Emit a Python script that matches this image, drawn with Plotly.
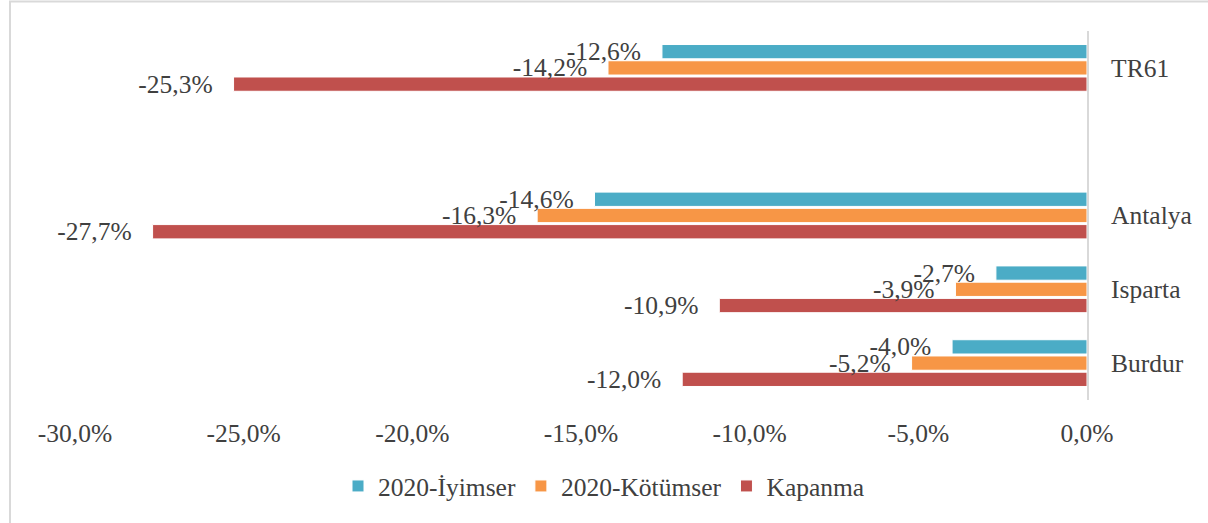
import plotly.graph_objects as go

categories = ["Burdur", "Isparta", "Antalya", " ", "TR61"]
iyimser = [-4.0, -2.7, -14.6, None, -12.6]
kotumser = [-5.2, -3.9, -16.3, None, -14.2]
kapanma = [-12.0, -10.9, -27.7, None, -25.3]
x_ticks = [-30, -25, -20, -15, -10, -5, 0]

FONT = "Liberation Serif, Times New Roman, serif"
TXT = "#404040"
PAD = "\u00a0\u00a0\u2009"


def fmt(v):
    return f"{v:.1f}".replace(".", ",") + "%"


def labels(vals):
    return [("" if v is None else fmt(v) + PAD) for v in vals]


fig = go.Figure()
series = [
    ("Kapanma", kapanma, "#C0504D"),
    ("2020-Kötümser", kotumser, "#F79646"),
    ("2020-İyimser", iyimser, "#4BACC6"),
]
for name, vals, col in series:
    fig.add_trace(go.Bar(
        y=categories, x=vals, name=name, orientation="h",
        marker=dict(color=col, line=dict(color="white", width=1)),
        text=labels(vals), textposition="outside", constraintext="none",
        cliponaxis=False, textfont=dict(family=FONT, size=25.5, color=TXT),
    ))

W, H = 1208, 523
L, R, T, B = 75, 121, 31, 123
pw, ph = W - L - R, H - T - B

fig.update_layout(
    width=W, height=H,
    margin=dict(l=L, r=R, t=T, b=B),
    paper_bgcolor="white", plot_bgcolor="white",
    barmode="group", bargap=0.34, bargroupgap=0.12,
    font=dict(family=FONT, size=25.5, color=TXT),
    showlegend=True,
    legend=dict(orientation="h", traceorder="reversed", xref="container", x=0.5,
                xanchor="center", yref="container", y=0.07, yanchor="middle",
                font=dict(family=FONT, size=25.5, color=TXT), itemwidth=30),
    xaxis=dict(range=[-30, 0], tickmode="array", tickvals=x_ticks,
               ticktext=[fmt(v) for v in x_ticks],
               showgrid=False, zeroline=False, showline=False,
               ticks="outside", ticklen=10, tickcolor="rgba(0,0,0,0)",
               tickfont=dict(family=FONT, size=25.5, color=TXT)),
    yaxis=dict(side="right", showgrid=False, showline=True, linecolor="#D9D9D9",
               linewidth=2, ticks="outside", ticklen=17, tickcolor="rgba(0,0,0,0)",
               tickfont=dict(family=FONT, size=25.5, color=TXT), range=[-0.5, 4.5]),
    shapes=[dict(type="rect", xref="paper", yref="paper",
                 x0=(10 - L) / pw, x1=(W + 20 - L) / pw,
                 y0=(T + ph - (H + 20)) / ph, y1=(T + ph - 1.5) / ph,
                 line=dict(color="#D9D9D9", width=2), layer="below")],
)

fig.write_html("out.html", config={"displayModeBar": False},
               post_script="document.body.style.margin='0';document.body.style.overflow='hidden';")
